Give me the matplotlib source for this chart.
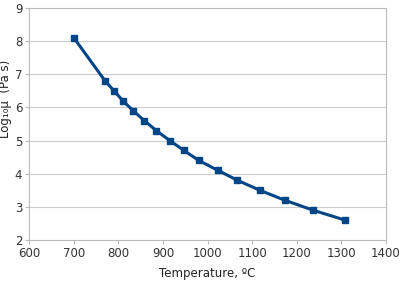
import matplotlib
matplotlib.use("Agg")
import matplotlib.pyplot as plt

temperature = [700, 770, 790, 810, 833, 858, 885, 915, 947, 980,
               1023, 1067, 1117, 1173, 1236, 1308]
log_visc = [8.1, 6.8, 6.5, 6.2, 5.9, 5.6, 5.3, 5.0, 4.7, 4.4,
            4.1, 3.8, 3.5, 3.2, 2.9, 2.6]

x_ticks = [600, 700, 800, 900, 1000, 1100, 1200, 1300, 1400]
y_ticks = [2, 3, 4, 5, 6, 7, 8, 9]

plt.rcParams.update({"font.family": "DejaVu Sans", "font.size": 8})

fig = plt.figure(figsize=(4.0, 2.82), dpi=100)
ax = fig.add_axes([0.073, 0.149, 0.892, 0.823])

ax.plot(temperature, log_visc, color="#004586", linewidth=2.2,
        marker="s", markersize=5, zorder=3)

ax.set_xlim(600, 1400)
ax.set_ylim(2, 9)
ax.set_xticks(x_ticks)
ax.set_yticks(y_ticks)
ax.grid(True, axis="y", color="#cccccc", linewidth=0.8)
ax.set_axisbelow(True)
for s in ax.spines.values():
    s.set_color("#bbbbbb")
    s.set_linewidth(0.8)
ax.tick_params(colors="#bbbbbb", labelcolor="#333333", length=3, width=0.8,
               labelsize=8.5, pad=2)

ax.set_xlabel("Temperature, ºC", fontsize=8.5, color="#222222", labelpad=5)
ax.set_ylabel("Log₁₀μ  (Pa s)", fontsize=8.5, color="#222222")
ax.yaxis.set_label_coords(-0.047, 0.61)

fig.savefig("out.png", dpi=100)
